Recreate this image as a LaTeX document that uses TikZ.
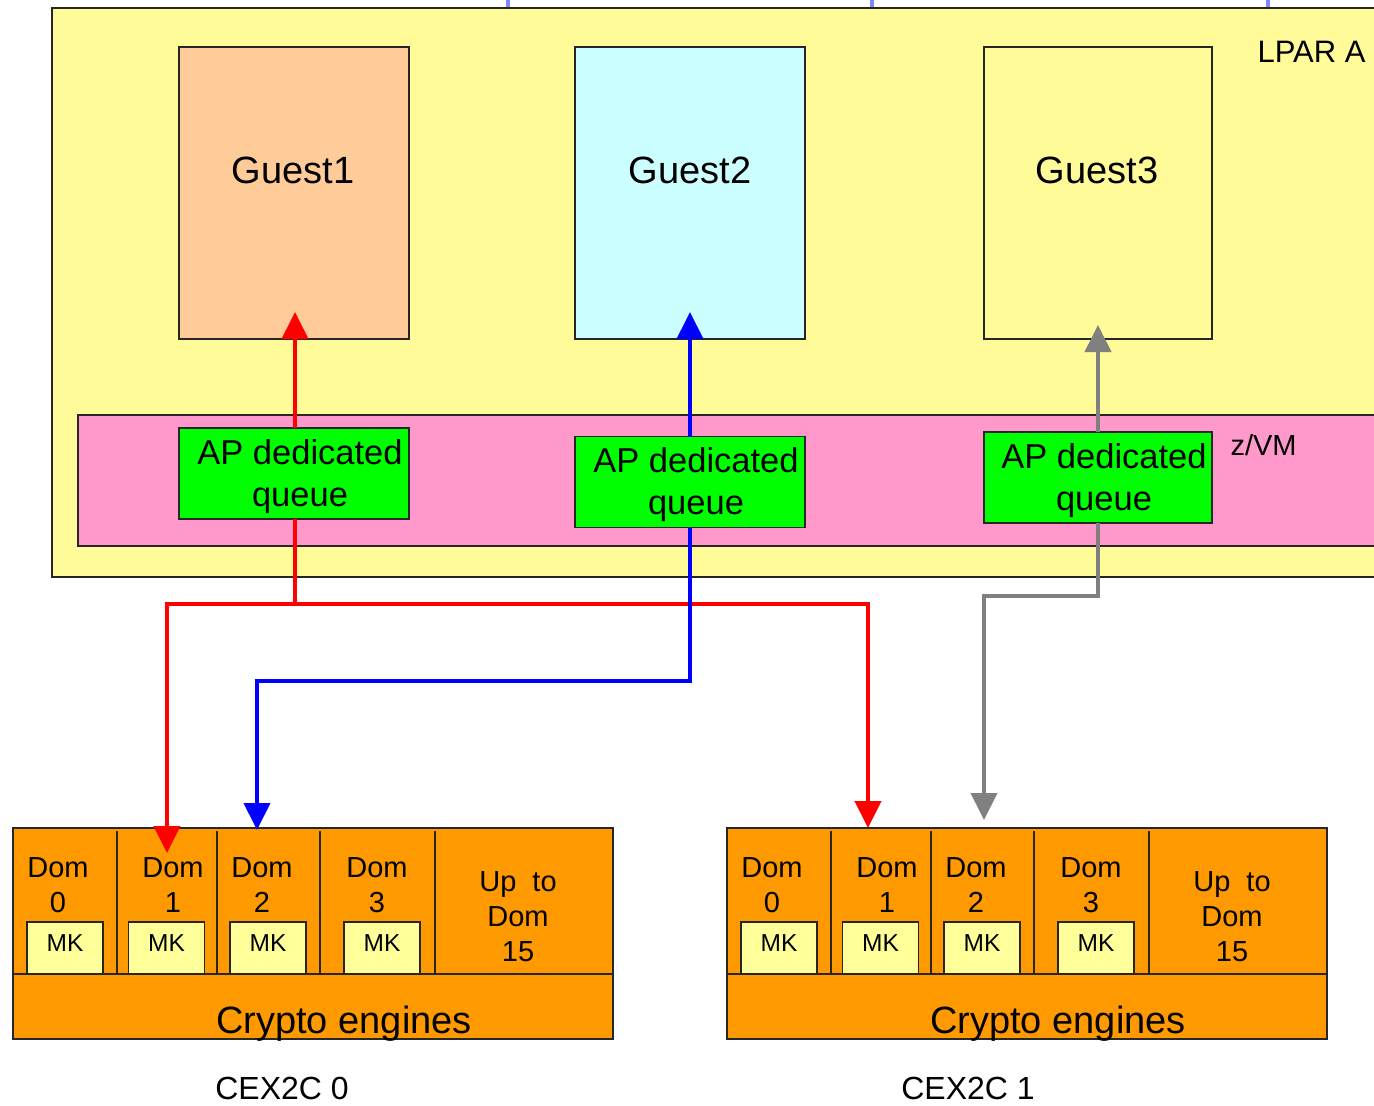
\documentclass[tikz,border=0pt]{standalone}
\usepackage{fontspec}
\setmainfont{Liberation Sans}
\usetikzlibrary{arrows.meta,calc}

\definecolor{lparyellow}{HTML}{FFFB99}
\definecolor{zvmpink}{HTML}{FF99CC}
\definecolor{guestpeach}{HTML}{FFCC99}
\definecolor{guestcyan}{HTML}{CCFFFF}
\definecolor{apgreen}{HTML}{00FF00}
\definecolor{cexorange}{HTML}{FF9900}
\definecolor{mkyellow}{HTML}{FFFF99}
\definecolor{flowred}{HTML}{FF0000}
\definecolor{flowblue}{HTML}{0000FF}
\definecolor{flowgray}{HTML}{808080}
\definecolor{edgeblue}{HTML}{8088FF}

\tikzset{
  box/.style={draw=black!85, line width=1.5pt, inner sep=0pt, outer sep=0pt},
  guestbox/.style={box, minimum width=230pt, minimum height=292pt},
  guesttext/.style={font=\fontsize{38}{46}\selectfont},
  apq/.style={box, fill=apgreen, minimum width=230pt, minimum height=91pt},
  aptext/.style={align=center, font=\fontsize{34.5}{42}\selectfont},
  flow/.style={line width=4pt, line join=miter,
    -{Triangle[width=26pt,length=27pt]}},
  divider/.style={draw=black!85, line width=1.5pt},
  mkbox/.style={box, fill=mkyellow, minimum width=76pt, minimum height=52pt},
  mktext/.style={font=\fontsize{24.5}{28}\selectfont},
  domtext/.style={align=center, font=\fontsize{29}{35}\selectfont},
  cardtext/.style={font=\fontsize{38}{44}\selectfont},
  cardname/.style={font=\fontsize{32}{38}\selectfont},
}

\begin{document}
\begin{tikzpicture}[x=1pt,y=-1pt]
\useasboundingbox (0,0) rectangle (1374,1106);
\clip (0,0) rectangle (1374,1106);
\fill[white] (0,0) rectangle (1374,1106);

% ends of the lines running in from above
\foreach \tx in {508,872,1268}
  \draw[edgeblue, line width=4pt] (\tx,0) -- (\tx,7);

% LPAR and z/VM layers
\node[box, fill=lparyellow, minimum width=1348pt, minimum height=569pt,
  anchor=north west] (lpar) at (52,8) {};
\node[anchor=west, font=\fontsize{31}{36}\selectfont] (lparlabel) at (1254,52) {LPAR A};
\node[box, fill=zvmpink, minimum width=1322pt, minimum height=131pt,
  anchor=north west] (zvm) at (78,415) {};
\node[anchor=west, font=\fontsize{29}{34}\selectfont] (zvmlabel) at (1227,445) {z/VM};

% guests
\node[guestbox, fill=guestpeach] (g1) at (294,193) {};
\node[guestbox, fill=guestcyan]  (g2) at (690,193) {};
\node[guestbox, fill=lparyellow, minimum width=228pt] (g3) at (1098,193) {};
\node[guesttext] (g1label) at (293,170) {Guest1};
\node[guesttext] (g2label) at (690,170) {Guest2};
\node[guesttext] (g3label) at (1097,170) {Guest3};

% AP dedicated queues
\node[apq] (ap1) at (294,473.5) {};
\node[apq] (ap2) at (690,482) {};
\node[apq, minimum width=228pt] (ap3) at (1098,477.5) {};
\foreach \q in {ap1,ap2,ap3}
  \node[aptext] (\q-label) at ([xshift=6pt,yshift=-3pt]\q.center) {AP dedicated\\queue};

% crypto cards
\foreach \ox/\cn in {13/c0, 727/c1} {
  \node[box, fill=cexorange, minimum width=600pt, minimum height=211pt,
    anchor=north west] (\cn) at (\ox,828) {};
  \node[box, fill=cexorange, minimum width=600pt, minimum height=65pt,
    anchor=north west] (\cn-eng) at (\ox,974) {};
  \node[cardtext] (\cn-englabel) at (\ox+331,1024) {Crypto engines};
  \foreach \d in {104,204,307,422}
    \draw[divider] (\ox+\d,831) -- (\ox+\d,974);
  \foreach \i/\mx in {0/52,1/153.5,2/255,3/369} {
    \node[mkbox] (\cn-mk\i) at (\ox+\mx,948) {};
    \node[mktext] (\cn-mk\i-label) at (\ox+\mx,943) {MK};
  }
  \foreach \i/\dx in {0/45,1/160,2/249,3/364}
    \node[domtext] (\cn-dom\i) at (\ox+\dx,885.5) {Dom\\\i};
  \node[domtext] (\cn-upto) at (\ox+505,917) {Up~~to\\Dom\\15};
}
\node[cardname] (c0name) at (282,1088) {CEX2C 0};
\node[cardname] (c1name) at (968,1088) {CEX2C 1};

% arrow end points
\coordinate (g1in) at (295,312);
\coordinate (g2in) at (690,312);
\coordinate (g3in) at (1098,325);
\coordinate (rj) at (295,604);
\coordinate (bj) at (257,681);
\coordinate (gj) at (984,596);
\coordinate (c0d1in) at (167,853);
\coordinate (c0d2in) at (257,830);
\coordinate (c1d1in) at (868,828);
\coordinate (c1d2in) at (984,820);

% Guest1: red
\draw[flow, flowred] (ap1.north -| rj) -- (g1in);
\draw[flow, flowred] (ap1.south -| rj) -- (rj) -| (c0d1in);
\draw[flow, flowred] (rj) -| (c1d1in);
% Guest2: blue
\draw[flow, flowblue] (ap2.north) -- (g2in);
\draw[flow, flowblue] (ap2.south) |- (bj) -- (c0d2in);
% Guest3: gray
\draw[flow, flowgray] (ap3.north) -- (g3in);
\draw[flow, flowgray] (ap3.south) |- (gj) -- (c1d2in);
\end{tikzpicture}
\end{document}
